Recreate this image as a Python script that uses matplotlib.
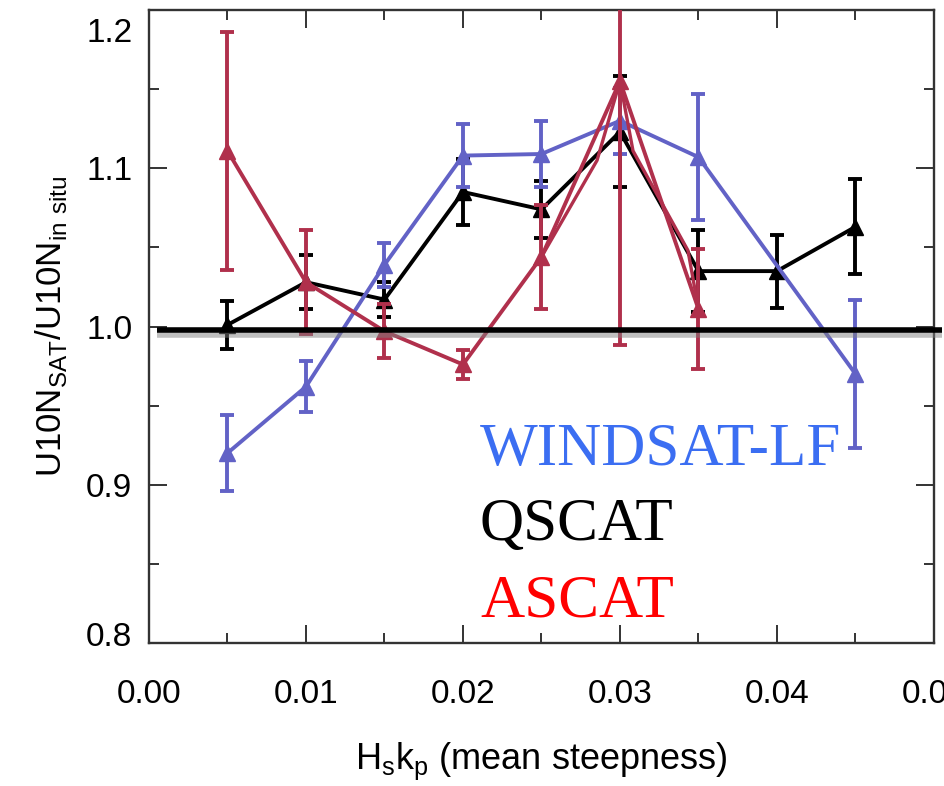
import matplotlib
matplotlib.use("Agg")
import matplotlib.pyplot as plt
import matplotlib.patheffects as pe
import matplotlib.transforms as mtransforms
from matplotlib.ticker import MultipleLocator, FormatStrFormatter

# === Données ===
steep = [0.005, 0.010, 0.015, 0.020, 0.025, 0.030, 0.035, 0.040, 0.045]
qscat = [1.001, 1.028, 1.017, 1.085, 1.074, 1.123, 1.035, 1.035, 1.063]
qscat_err = [0.015, 0.017, 0.011, 0.021, 0.018, 0.035, 0.026, 0.023, 0.030]

windsat_x = [0.005, 0.010, 0.015, 0.020, 0.025, 0.030, 0.035, 0.045]
windsat = [0.920, 0.962, 1.039, 1.108, 1.109, 1.130, 1.107, 0.970]
windsat_err = [0.024, 0.016, 0.014, 0.020, 0.021, 0.021, 0.040, 0.047]

ascat_x = [0.005, 0.010, 0.015, 0.020, 0.025, 0.030, 0.035]
ascat = [1.111, 1.028, 0.997, 0.976, 1.044, 1.155, 1.011]
ascat_err = [0.075, 0.033, 0.017, 0.009, 0.033, 0.167, 0.038]

# second tracé ASCAT visible autour du pic
ascat_trace_x = [0.025, 0.02854, 0.030, 0.03083, 0.03433, 0.035]
ascat_trace = [1.044, 1.105, 1.155, 1.111, 1.048, 1.011]

labels = ["WINDSAT-LF", "QSCAT", "ASCAT"]
label_colors = ["#3b6ef2", "black", "#ff0000"]

blue = "#6262c6"
red = "#b0304c"

plt.rcParams['font.family'] = ['Liberation Sans', 'DejaVu Sans']
plt.rcParams['mathtext.fontset'] = 'custom'
plt.rcParams['mathtext.rm'] = 'Liberation Sans'

fig = plt.figure(figsize=(9.44, 7.86), dpi=100)
ax = fig.add_axes([0.1578, 0.1819, 0.8316, 0.8054])

err_kw = dict(marker='^', markersize=11, linewidth=2.8, elinewidth=2.8,
              capsize=5, capthick=2.8)

ax.errorbar(steep, qscat, yerr=qscat_err, color='black', zorder=3, **err_kw)
ax.errorbar(windsat_x, windsat, yerr=windsat_err, color=blue, zorder=4, **err_kw)
ax.plot(ascat_trace_x, ascat_trace, color=red, linewidth=2.4, zorder=5)
ax.errorbar(ascat_x, ascat, yerr=ascat_err, color=red, zorder=5, **err_kw)

# ligne de référence à 1.0 avec ombre
ax.plot([0.0005, 0.0505], [0.998, 0.998], color='black', linewidth=4,
        clip_on=False, zorder=6, solid_capstyle='butt',
        path_effects=[pe.SimpleLineShadow(offset=(0, -3.5), shadow_color='gray', alpha=0.5),
                      pe.Normal()])

ax.set_xlim(0.0, 0.05)
ax.set_ylim(0.8, 1.2)
ax.xaxis.set_major_locator(MultipleLocator(0.01))
ax.xaxis.set_minor_locator(MultipleLocator(0.005))
ax.yaxis.set_major_locator(MultipleLocator(0.1))
ax.yaxis.set_minor_locator(MultipleLocator(0.05))
ax.xaxis.set_major_formatter(FormatStrFormatter('%.2f'))
ax.yaxis.set_major_formatter(FormatStrFormatter('%.1f'))

ax.tick_params(which='both', direction='in', top=True, right=True,
               color='#333333', width=1.4)
ax.tick_params(which='major', length=13)
ax.tick_params(which='minor', length=7)
ax.tick_params(axis='x', which='major', labelsize=24, pad=26)
ax.tick_params(axis='y', which='major', labelsize=24, pad=12)
for sp in ax.spines.values():
    sp.set_color('#333333')
    sp.set_linewidth(1.7)

ax.set_ylabel(r'U10N$_{\mathrm{SAT}}$/U10N$_{\mathrm{in\ situ}}$', fontsize=25, labelpad=12)
ax.set_xlabel(r'H$_{\mathrm{s}}$k$_{\mathrm{p}}$ (mean steepness)', fontsize=26, labelpad=22)

text_y = [0.9126, 0.8648, 0.817]
for lab, col, ty in zip(labels, label_colors, text_y):
    ax.text(0.02108, ty, lab, color=col, fontsize=44, family='Liberation Serif',
            va='baseline', ha='left', zorder=7)

# le 1.2 est un peu plus bas que sa graduation, le 0.8 un peu plus haut
fig.canvas.draw()
ticks = ax.yaxis.get_major_ticks()
for tk, val in zip(ticks, ax.get_yticks()):
    if abs(val - 1.2) < 1e-6:
        tk.label1.set_transform(tk.label1.get_transform() +
                                mtransforms.ScaledTranslation(0, -20 / 100, fig.dpi_scale_trans))
    elif abs(val - 0.8) < 1e-6:
        tk.label1.set_transform(tk.label1.get_transform() +
                                mtransforms.ScaledTranslation(0, 9 / 100, fig.dpi_scale_trans))

fig.savefig("out.png", dpi=100)
plt.close(fig)
